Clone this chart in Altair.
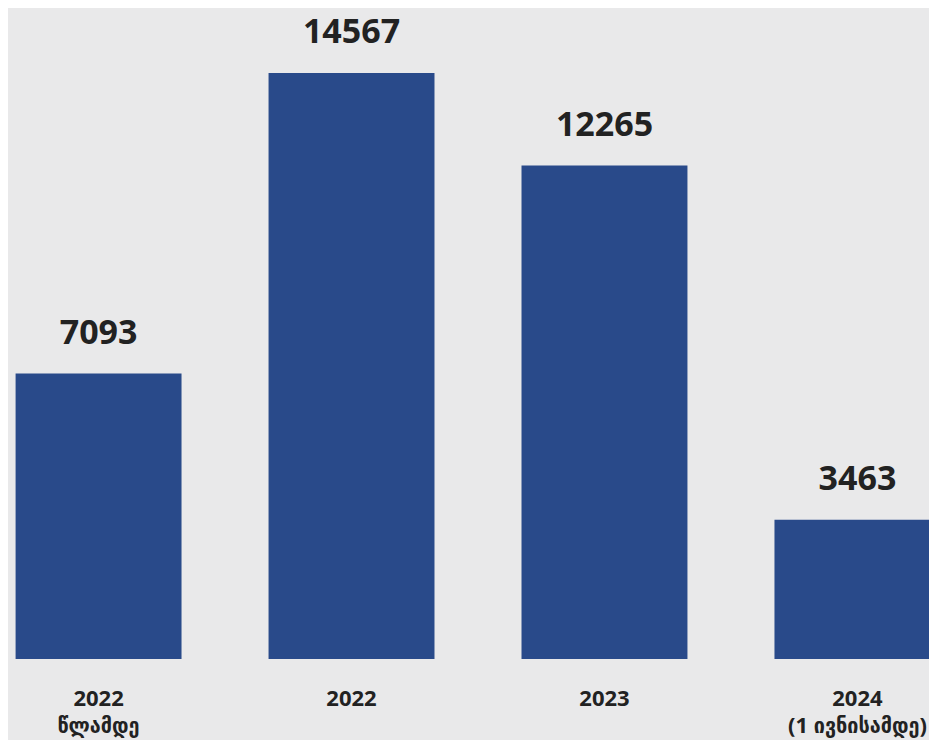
import altair as alt
import pandas as pd

categories = ["2022\nწლამდე", "2022", "2023", "2024\n(1 ივნისამდე)"]
values = [7093, 14567, 12265, 3463]

df = pd.DataFrame({"cat": categories, "value": values})

FONT = "Open Sans, DejaVu Sans, sans-serif"
LFONT = "Open Sans, DejaVu Sans Condensed, DejaVu Sans, sans-serif"
H = 651
D = 16180

x = alt.X(
    "cat:N",
    sort=categories,
    scale=alt.Scale(range=[0, 940], paddingInner=0.344, paddingOuter=0.03),
    axis=alt.Axis(
        title=None,
        domain=False,
        ticks=False,
        labelAngle=0,
        labelExpr="split(datum.label, '\\n')",
        labelFont=LFONT,
        labelFontSize=22,
        labelFontWeight="bold",
        labelColor="#222222",
        labelPadding=29,
        labelLineHeight=27,
        labelBaseline="top",
        labelOverlap=False,
        labelBound=False,
    ),
)
y = alt.Y("value:Q", scale=alt.Scale(domain=[0, D]), axis=None)

bars = alt.Chart(df).mark_bar(color="#294a8a", clip=True).encode(x=x, y=y)
labels = alt.Chart(df).mark_text(
    font=FONT, fontSize=34, fontWeight="bold", color="#222222",
    baseline="bottom", dy=-23
).encode(x=x, y=y, text="value:Q")

chart = (bars + labels).properties(
    width=921, height=H,
    autosize=alt.AutoSizeParams(type="none"),
    padding={"left": 0, "top": 0, "right": 0, "bottom": 81},
    background="#e9e9ea",
).configure_view(stroke=None).configure_axis(grid=False)

chart.save("out.html", embed_options={"renderer": "svg", "actions": False})
